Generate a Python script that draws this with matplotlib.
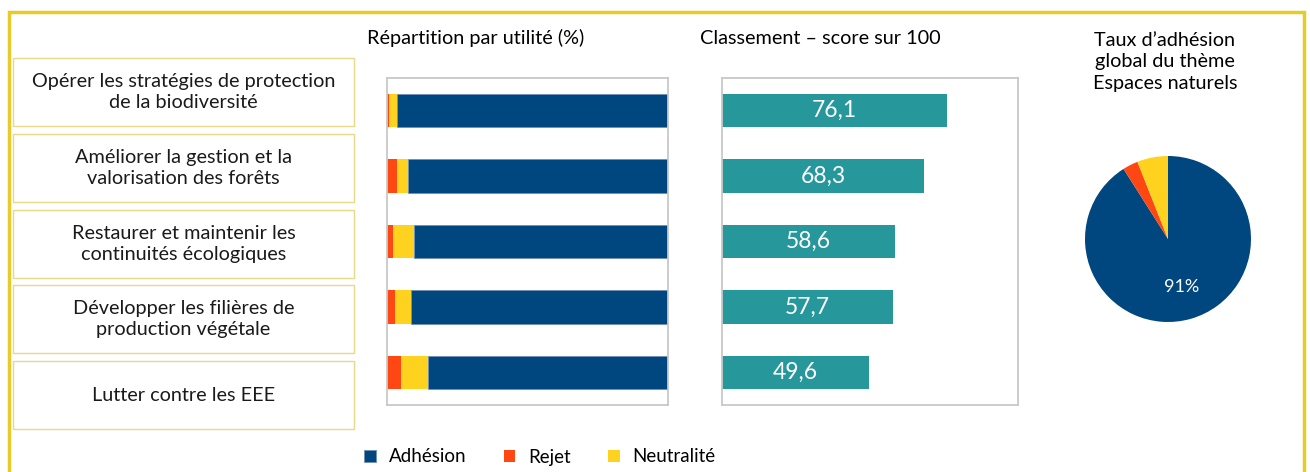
import matplotlib.pyplot as plt
from matplotlib.patches import Rectangle

plt.rcParams['font.family'] = ['Lato', 'DejaVu Sans']

# data
themes = ["Opérer les stratégies de protection\nde la biodiversité",
          "Améliorer la gestion et la\nvalorisation des forêts",
          "Restaurer et maintenir les\ncontinuités écologiques",
          "Développer les filières de\nproduction végétale",
          "Lutter contre les EEE"]
rejet = [0.8, 3.7, 2.0, 2.8, 4.9]
neutralite = [2.8, 3.8, 7.5, 5.6, 9.7]
adhesion = [96.4, 92.5, 90.5, 91.6, 85.4]
scores = [76.1, 68.3, 58.6, 57.7, 49.6]
pie_labels = ["Adhésion", "Rejet", "Neutralité"]
pie_values = [91, 3, 6]

c_adh = '#00467F'
c_rej = '#FF4713'
c_neu = '#FFD220'
c_score = '#26979B'
c_spine = '#C8C8C8'

W, H = 1310, 472
fig = plt.figure(figsize=(W / 100, H / 100), dpi=100)

def fx(px):
    return px / W

def fy(py):
    return 1 - py / H

# outer yellow frame (open at bottom)
fig.add_artist(Rectangle((fx(9), fy(480)), fx(1304) - fx(9), fy(12) - fy(480),
                         transform=fig.transFigure, fill=False,
                         edgecolor='#E6CC2A', linewidth=2.5))

# theme boxes on the left
for i, t in enumerate(themes):
    top = 58 + i * 75.8
    fig.add_artist(Rectangle((fx(13), fy(top + 68)), fx(354) - fx(13), fy(top) - fy(top + 68),
                             transform=fig.transFigure, fill=False,
                             edgecolor='#E8D98A', linewidth=1.0))
    fig.text(fx(183.5), fy(top + 34), t, ha='center', va='center',
             fontsize=14.3, linespacing=1.3, color='#1a1a1a')

# stacked bars
ax1 = fig.add_axes([fx(387), fy(405), fx(668) - fx(387), fy(78) - fy(405)])
y = list(range(len(themes)))
left2 = rejet
left3 = [a + b for a, b in zip(rejet, neutralite)]
b_rej = ax1.barh(y, rejet, height=0.51, color=c_rej, label='Rejet')
b_neu = ax1.barh(y, neutralite, left=left2, height=0.51, color=c_neu, label='Neutralité')
b_adh = ax1.barh(y, adhesion, left=left3, height=0.51, color=c_adh,
                 edgecolor='#6F8FB0', linewidth=0.6, label='Adhésion')
ax1.set_xlim(0, 100)
ax1.set_ylim(4.5, -0.5)

# scores
ax2 = fig.add_axes([fx(722), fy(405), fx(1018) - fx(722), fy(78) - fy(405)])
ax2.barh(y, scores, height=0.51, color=c_score)
for yi, s in zip(y, scores):
    ax2.text(s / 2, yi, f"{s:.1f}".replace('.', ','), ha='center', va='center',
             color='white', fontsize=16.5)
ax2.set_xlim(0, 100)
ax2.set_ylim(4.5, -0.5)

for ax in (ax1, ax2):
    ax.set_xticks([])
    ax.set_yticks([])
    for sp in ax.spines.values():
        sp.set_color(c_spine)
        sp.set_linewidth(1.3)

fig.text(fx(476), fy(38), "Répartition par utilité (%)", ha='center', va='center', fontsize=14.3)
fig.text(fx(820), fy(38), "Classement – score sur 100", ha='center', va='center', fontsize=14.3)

# pie
axp = fig.add_axes([fx(1085), fy(322), fx(166), 166 / H])
wedges, _, autotexts = axp.pie(pie_values, colors=[c_adh, c_rej, c_neu], startangle=90,
                               counterclock=False, autopct=lambda p: f"{p:.0f}%" if p > 50 else '',
                               pctdistance=0.6, textprops={'color': 'white', 'fontsize': 13})
axp.set_xlim(-1, 1)
axp.set_ylim(-1, 1)
fig.text(fx(1165), fy(62), "Taux d’adhésion\nglobal du thème\nEspaces naturels",
         ha='center', va='center', fontsize=14.3, linespacing=1.3)

# legend
fig.legend(handles=[b_adh, b_rej, b_neu], labels=['Adhésion', 'Rejet', 'Neutralité'],
           loc='center', bbox_to_anchor=(fx(540), fy(457)), ncol=3, frameon=False,
           fontsize=13.5, handlelength=0.6, handleheight=0.6, columnspacing=2.0,
           handletextpad=0.7)

fig.savefig('out.png', dpi=100)
